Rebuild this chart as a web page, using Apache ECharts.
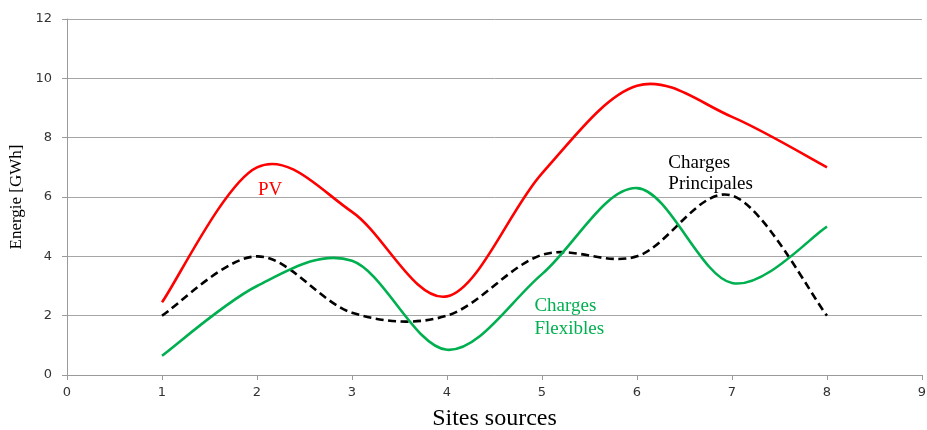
<!DOCTYPE html>
<html><head><meta charset="utf-8">
<script src="https://cdn.jsdelivr.net/npm/echarts@6/dist/echarts.min.js"></script>
<style>html,body{margin:0;padding:0;background:#fff}#c{width:927px;height:430px}</style>
</head><body><div id="c"></div>
<script>
const sites = [1, 2, 3, 4, 5, 6, 7, 8];
const pv = [2.45, 7.0, 5.5, 2.65, 6.8, 9.75, 8.7, 7.0];
const chargesPrincipales = [2.0, 4.0, 2.1, 2.0, 4.05, 4.0, 6.05, 2.0];
const chargesFlexibles = [0.65, 3.0, 3.85, 0.85, 3.4, 6.3, 3.1, 5.0];
const xTicks = [0, 1, 2, 3, 4, 5, 6, 7, 8, 9];
const yTicks = [0, 2, 4, 6, 8, 10, 12];

const pairs = (ys) => sites.map((x, i) => [x, ys[i]]);
const serif = '"Liberation Serif", "DejaVu Serif", serif';
const sans = '"DejaVu Sans", Verdana, sans-serif';

// Smoothed line (Excel-like Catmull-Rom Bezier) drawn through the axis scales.
function smoothSeries(name, values, color, dash) {
  return {
    name: name, type: 'custom', data: pairs(values),
    encode: { x: 0, y: 1 }, clip: false, silent: true,
    renderItem: function (params, api) {
      if (params.dataIndex !== 0) return null;
      const p = values.map((v, i) => api.coord([sites[i], v]));
      const n = p.length;
      let d = 'M' + p[0][0] + ' ' + p[0][1];
      for (let i = 0; i < n - 1; i++) {
        const p0 = p[Math.max(i - 1, 0)], p1 = p[i], p2 = p[i + 1], p3 = p[Math.min(i + 2, n - 1)];
        const c1x = p1[0] + (p2[0] - p0[0]) / 6, c1y = p1[1] + (p2[1] - p0[1]) / 6;
        const c2x = p2[0] - (p3[0] - p1[0]) / 6, c2y = p2[1] - (p3[1] - p1[1]) / 6;
        d += ' C' + c1x + ' ' + c1y + ' ' + c2x + ' ' + c2y + ' ' + p2[0] + ' ' + p2[1];
      }
      return {
        type: 'path', shape: { pathData: d },
        style: { fill: 'none', stroke: color, lineWidth: 2.6, lineDash: dash || null, lineCap: 'butt', lineJoin: 'round' }
      };
    }
  };
}

function annotation(coord, text, color, lh) {
  return {
    type: 'scatter', symbolSize: 0, silent: true, data: [coord],
    itemStyle: { opacity: 1 },
    label: { show: true, formatter: text, color: color, opacity: 1, fontFamily: serif, fontSize: 19,
             position: 'inside', align: 'left', verticalAlign: 'middle', lineHeight: lh }
  };
}

const chart = echarts.init(document.getElementById('c'));
chart.setOption({
  animation: false,
  grid: { left: 67, right: 5, top: 19, bottom: 55, outerBoundsMode: 'none', containLabel: false },
  xAxis: {
    type: 'value', min: 0, max: 9, interval: 1,
    name: 'Sites sources', nameLocation: 'middle', nameGap: 32,
    nameTextStyle: { fontFamily: serif, fontSize: 24, color: '#000' },
    axisLine: { lineStyle: { color: '#9a9a9a', width: 1 } },
    axisTick: { show: true, length: 5, lineStyle: { color: '#9a9a9a' } },
    axisLabel: { fontFamily: sans, fontSize: 13, color: '#333', margin: 11 },
    splitLine: { show: false }
  },
  yAxis: {
    type: 'value', min: 0, max: 12, interval: 2,
    name: 'Energie [GWh]', nameLocation: 'middle', nameGap: 40, nameRotate: 90,
    nameTextStyle: { fontFamily: serif, fontSize: 17, color: '#000' },
    axisLine: { show: true, lineStyle: { color: '#9a9a9a', width: 1 } },
    axisTick: { show: true, length: 5, lineStyle: { color: '#9a9a9a' } },
    axisLabel: { fontFamily: sans, fontSize: 13, color: '#333', margin: 15 },
    splitLine: { show: true, lineStyle: { color: '#a6a6a6', width: 1 } }
  },
  series: [
    smoothSeries('PV', pv, '#ff0000'),
    smoothSeries('Charges Principales', chargesPrincipales, '#000000', [8, 4.5]),
    smoothSeries('Charges Flexibles', chargesFlexibles, '#00b050'),
    annotation([2.01, 6.25], 'PV', '#ff0000', 22),
    annotation([6.33, 6.8], 'Charges\nPrincipales', '#000000', 21),
    annotation([4.92, 1.95], 'Charges\nFlexibles', '#00b050', 23)
  ]
});
</script></body></html>
